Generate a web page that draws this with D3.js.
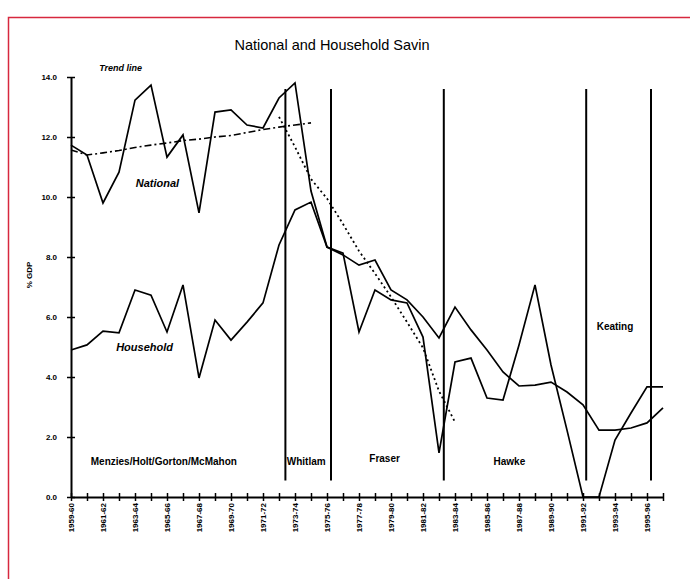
<!DOCTYPE html>
<html>
<head>
<meta charset="utf-8">
<script src="https://cdn.jsdelivr.net/npm/d3@7"></script>
<style>
  body { margin: 0; background: #fff; }
  svg { display: block; font-family: "Liberation Sans", Arial, sans-serif; }
</style>
</head>
<body>
<svg id="chart" width="690" height="579"></svg>
<script>
// years are fiscal years, keyed by the year they end in
const years = [1960, 1961, 1962, 1963, 1964, 1965, 1966, 1967, 1968, 1969,
  1970, 1971, 1972, 1973, 1974, 1975, 1976, 1977, 1978, 1979,
  1980, 1981, 1982, 1983, 1984, 1985, 1986, 1987, 1988, 1989,
  1990, 1991, 1992, 1993, 1994, 1995, 1996, 1997];

const national = [11.73, 11.4, 9.8, 10.83, 13.23, 13.73, 11.33, 12.07, 9.47, 12.83,
  12.9, 12.4, 12.3, 13.3, 13.8, 10.2, 8.33, 8.13, 5.5, 6.9,
  6.57, 6.47, 5.33, 1.47, 4.5, 4.63, 3.3, 3.23, 5.07, 7.07,
  4.4, 2.23, 0, 0, 1.9, 2.8, 3.67, 3.67];

const household = [4.9, 5.07, 5.53, 5.47, 6.9, 6.73, 5.5, 7.07, 3.97, 5.9,
  5.23, 5.83, 6.47, 8.4, 9.57, 9.83, 8.33, 8.07, 7.73, 7.9,
  6.9, 6.57, 6.0, 5.3, 6.33, 5.57, 4.9, 4.17, 3.7, 3.73,
  3.83, 3.5, 3.07, 2.23, 2.23, 2.3, 2.47, 2.97];

// trend lines
const trendEarlyYears = [1960, 1961, 1962, 1963, 1964, 1965, 1966, 1967, 1968, 1969, 1970, 1971, 1972, 1973, 1974, 1975];
const trendEarly = [11.57, 11.4, 11.47, 11.55, 11.65, 11.73, 11.8, 11.88, 11.93, 12.0, 12.05, 12.15, 12.25, 12.33, 12.4, 12.47];
const trendLateYears = [1973, 1974, 1975, 1976, 1977, 1978, 1979, 1980, 1981, 1982, 1983, 1984];
const trendLate = [12.67, 11.67, 10.6, 9.95, 9.1, 8.2, 7.45, 6.67, 5.83, 4.97, 3.53, 2.5];

// changes of government
const govChanges = [1973.4, 1976.25, 1983.3, 1992.2, 1996.25];
const govNames = ["Menzies/Holt/Gorton/McMahon", "Whitlam", "Fraser", "Hawke", "Keating"];
const govLabelX = [1965.8, 1974.7, 1979.6, 1987.4, 1994.0];
const govLabelY = [1.17, 1.17, 1.27, 1.17, 5.67];

const yTicks = [0, 2, 4, 6, 8, 10, 12, 14];
const xLabelYears = [1960, 1962, 1964, 1966, 1968, 1970, 1972, 1974, 1976, 1978,
  1980, 1982, 1984, 1986, 1988, 1990, 1992, 1994, 1996];
const xLabels = ["1959-60", "1961-62", "1963-64", "1965-66", "1967-68", "1969-70",
  "1971-72", "1973-74", "1975-76", "1977-78", "1979-80", "1981-82", "1983-84",
  "1985-86", "1987-88", "1989-90", "1991-92", "1993-94", "1995-96"];

const svg = d3.select("#chart");

svg.append("rect")
  .attr("x", 8.5).attr("y", 17.5)
  .attr("width", 700).attr("height", 600)
  .attr("fill", "#fff")
  .attr("stroke", "#d7283f")
  .attr("stroke-width", 1.5);

const x = d3.scaleLinear().domain([1960, 1997]).range([71, 663]);
const y = d3.scaleLinear().domain([0, 14]).range([497, 77]);

svg.append("text")
  .attr("x", 332).attr("y", 50)
  .attr("text-anchor", "middle")
  .style("font-size", "14.5px")
  .text("National and Household Savin");

// y axis
const gy = svg.append("g")
  .attr("transform", `translate(${x(1960)},0)`)
  .call(d3.axisLeft(y).tickValues(yTicks).tickSize(4).tickSizeOuter(0)
    .tickPadding(10).tickFormat(d3.format(".1f")));
gy.selectAll(".tick line").attr("x1", 4).attr("x2", -4).attr("stroke-width", 1.5);
gy.select(".domain").attr("stroke-width", 2);
gy.selectAll("text").style("font-size", "8px").style("font-weight", "bold");

// x axis
const labelFor = new Map(xLabelYears.map((yr, i) => [yr, xLabels[i]]));
const gx = svg.append("g")
  .attr("transform", `translate(0,${y(0)})`)
  .call(d3.axisBottom(x).tickValues(years).tickSize(4).tickSizeOuter(0)
    .tickFormat(d => labelFor.get(d) || ""));
gx.selectAll(".tick line").attr("y1", -4).attr("y2", 4).attr("stroke-width", 1.5);
gx.select(".domain").attr("stroke-width", 2);
gx.selectAll("text")
  .attr("transform", "rotate(-90)")
  .attr("x", -6).attr("y", 0).attr("dy", "0.32em")
  .style("text-anchor", "end")
  .style("font-size", "8px").style("font-weight", "bold");

svg.append("text")
  .attr("transform", `translate(29,${y(7.4)}) rotate(-90)`)
  .attr("text-anchor", "middle")
  .attr("dy", "0.35em")
  .style("font-size", "8px").style("font-weight", "bold")
  .text("% GDP");

// government change markers
svg.append("g").selectAll("line")
  .data(govChanges)
  .join("line")
  .attr("x1", d => x(d)).attr("x2", d => x(d))
  .attr("y1", y(13.6)).attr("y2", y(0.55))
  .attr("stroke", "#000").attr("stroke-width", 2);

svg.append("g").selectAll("text")
  .data(govNames)
  .join("text")
  .attr("x", (d, i) => x(govLabelX[i]))
  .attr("y", (d, i) => y(govLabelY[i]))
  .attr("dy", "0.35em")
  .attr("text-anchor", "middle")
  .style("font-size", "10px").style("font-weight", "bold")
  .text(d => d);

const line = d3.line().x(d => x(d[0])).y(d => y(d[1]));

function drawSeries(xs, vals, dash, width) {
  svg.append("path")
    .datum(xs.map((yr, i) => [yr, vals[i]]))
    .attr("fill", "none")
    .attr("stroke", "#000")
    .attr("stroke-width", width)
    .attr("stroke-dasharray", dash)
    .attr("d", line);
}

drawSeries(years, national, null, 1.7);
drawSeries(years, household, null, 1.7);
drawSeries(trendEarlyYears, trendEarly, "7,3,2,3", 1.6);
drawSeries(trendLateYears, trendLate, "2,3", 1.8);

// series labels
const seriesLabels = [
  { text: "National", yr: 1965.4, v: 10.47 },
  { text: "Household", yr: 1964.6, v: 5.0 },
  { text: "Trend line", yr: 1963.1, v: 14.3 }
];
svg.append("g").selectAll("text")
  .data(seriesLabels)
  .join("text")
  .attr("x", d => x(d.yr)).attr("y", d => y(d.v))
  .attr("dy", "0.35em")
  .attr("text-anchor", "middle")
  .style("font-size", d => d.text === "Trend line" ? "9px" : "11px")
  .style("font-weight", "bold").style("font-style", "italic")
  .text(d => d.text);
</script>
</body>
</html>
